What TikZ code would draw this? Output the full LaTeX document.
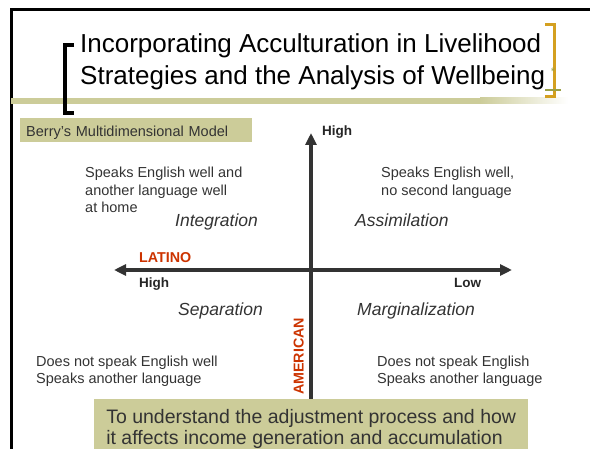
\documentclass[tikz,border=0pt]{standalone}
\usepackage{fontspec}
\setmainfont{Liberation Sans}
\usetikzlibrary{arrows.meta, positioning}
\definecolor{SlideOlive}{HTML}{CCCC99}
\definecolor{SlideGold}{HTML}{D4A020}
\definecolor{SlideRed}{HTML}{CC3300}
\definecolor{SlideGrey}{HTML}{333333}
\definecolor{SlideGreen}{HTML}{9AA046}

\begin{document}
\begin{tikzpicture}[x=1pt, y=-1pt,
            frame/.style={line width=3pt, black},
            axis/.style={line width=4pt, SlideGrey, >={Triangle[length=12pt, width=11pt]}},
            label/.style={anchor=base west, inner sep=0pt, align=left, text=SlideGrey, font=\fontsize{14.5}{17.5}\selectfont},
            mode/.style={anchor=base west, inner sep=0pt, text=SlideGrey, font=\fontsize{17.5}{20}\selectfont\itshape},
            pole/.style={anchor=base west, inner sep=0pt, text=black!85, font=\fontsize{13.5}{16}\selectfont\bfseries},
            group/.style={anchor=base west, inner sep=0pt, text=SlideRed, font=\fontsize{14.3}{17}\selectfont\bfseries},
            panel/.style={fill=SlideOlive, anchor=north west, align=left, text=SlideGrey}
        ]
            \useasboundingbox (0,0) rectangle (590,449);

            % Slide frame and header band
            \draw[frame] (10,10) -- (590,10);
            \draw[frame] (11,10) -- (11,449);
            \fill[SlideOlive] (11,98) rectangle (480,104);
            \shade[left color=SlideOlive, right color=white] (480,98) rectangle (568,104);

            % Title brackets
            \draw[line width=4pt, black] (74,45) -- (65,45) -- (65,113) -- (74,113);
            \draw[line width=3pt, SlideGold] (545,25) -- (554.5,25) -- (554.5,97) -- (545,97);
            \draw[line width=1.5pt, SlideGreen] (545,90) -- (561,90);
            \node[inner sep=0pt, text=SlideGreen, font=\fontsize{11}{11}\selectfont] (star) at (553,72) {*};

            % Title (anchored on its last line)
            \node[anchor=base west, inner sep=0pt, align=left, font=\fontsize{26}{32}\selectfont] (title) at (80,85)
                {Incorporating Acculturation in Livelihood\\Strategies and the Analysis of Wellbeing};

            % Model caption
            \node[panel, minimum height=24pt, text width=220pt, inner xsep=6pt, inner ysep=0pt,
                  text height=13pt, text depth=1pt, font=\fontsize{14.5}{17}\selectfont] (model) at (20,118)
                {Berry’s Multidimensional Model};

            % Axes
            \coordinate (yTop) at (311,133);
            \coordinate (yBot) at (311,452);
            \coordinate (xLeft) at (114,270);
            \coordinate (xRight) at (512,270);
            \draw[axis, ->] (yBot) -- (yTop);
            \draw[axis, <->] (xLeft) -- (xRight);

            % Axis labels
            \node[pole] (highTop) at (322,136) {High};
            \node[pole] (highLeft) at (139,288) {High};
            \node[pole] (low) at (454,288) {Low};
            \node[group] (latino) at (139,263) {LATINO};
            \node[group, rotate=90] (american) at (303.5,395) {AMERICAN};

            % Quadrants
            \node[label] (intText) at (85,213) {Speaks English well and\\another language well\\at home};
            \node[label] (assText) at (381,195.5) {Speaks English well,\\no second language};
            \node[label] (sepText) at (36,384) {Does not speak English well\\Speaks another language};
            \node[label] (marText) at (377,384) {Does not speak English\\Speaks another language};
            \node[mode] (integration) at (175,227) {Integration};
            \node[mode] (assimilation) at (355,227) {Assimilation};
            \node[mode] (separation) at (178,316) {Separation};
            \node[mode] (marginalization) at (357,316) {Marginalization};

            % Purpose
            \node[panel, minimum width=434pt, inner xsep=7pt, inner ysep=10.5pt, font=\fontsize{19.5}{20.5}\selectfont] (goal) at (94,399)
                {To understand the adjustment process and how\\it affects income generation and accumulation};
        \end{tikzpicture}
\end{document}
